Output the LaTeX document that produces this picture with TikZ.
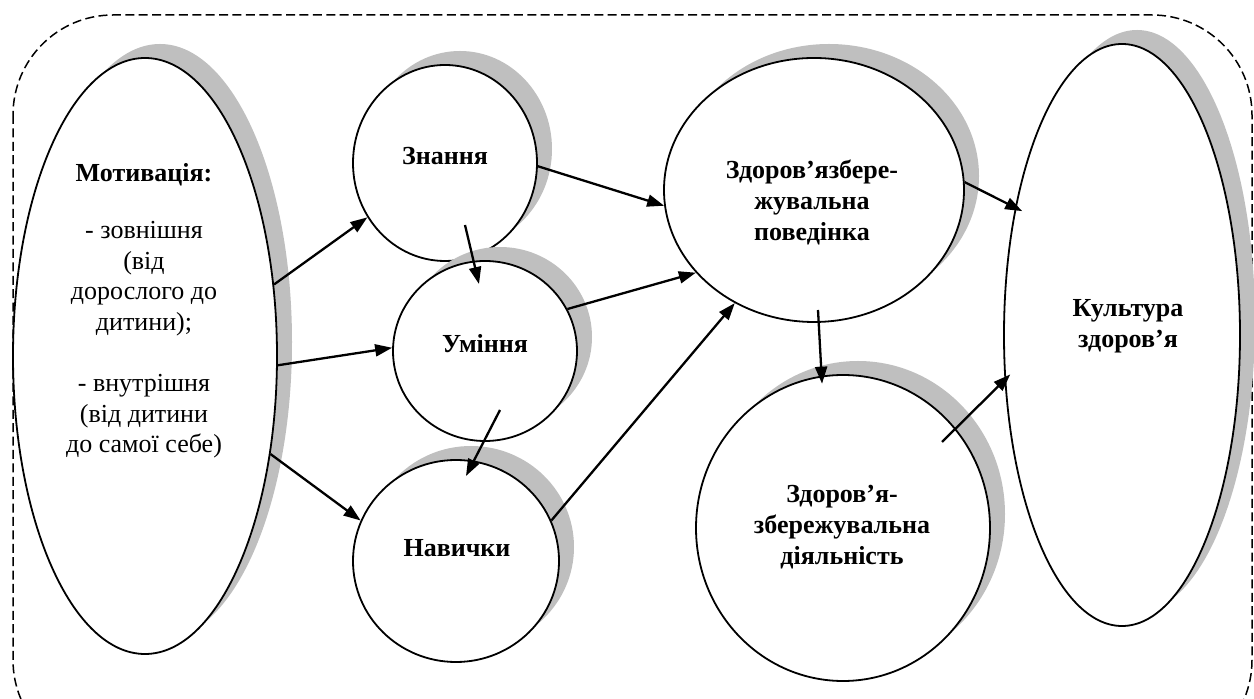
\documentclass[tikz,border=0pt]{standalone}
\usepackage{fontspec}
\setmainfont{Liberation Serif}
\usetikzlibrary{shapes.geometric,arrows.meta,shadows}
\begin{document}
\begin{tikzpicture}[x=0.5pt,y=-0.5pt,
  blob/.style={ellipse, draw=black, line width=0.9pt, fill=white, inner sep=0pt,
     drop shadow={shadow xshift=7.5pt, shadow yshift=7pt, fill=black!25, opacity=1}},
  lbl/.style={font=\fontsize{13pt}{15.3pt}\selectfont, align=center, inner sep=0pt},
  blbl/.style={lbl, font=\fontsize{13pt}{15.5pt}\selectfont\bfseries},
  arr/.style={line width=1.15pt, -{Triangle[length=8.5pt,width=6pt]}},
  frame/.style={draw, line width=0.75pt, dash pattern=on 4.5pt off 2.2pt, rounded corners=50pt}
]
\useasboundingbox (0,0) rectangle (1254,699);
\clip (0,0) rectangle (1254,699);
\draw[frame] (13,15) rectangle (1252,760);

\node[blob, minimum width=132pt, minimum height=298pt] (mot) at (145,356) {};
\node[blob, minimum width=92pt, minimum height=98pt] (zn) at (445,163) {};
\node[blob, minimum width=92pt, minimum height=90pt] (um) at (485,351) {};
\node[blob, minimum width=103pt, minimum height=101pt] (nav) at (456,561) {};
\node[blob, minimum width=150pt, minimum height=132pt] (pov) at (814,190) {};
\node[blob, minimum width=147pt, minimum height=153pt] (dij) at (843,528) {};
\node[blob, minimum width=118pt, minimum height=291pt] (kul) at (1122,335) {};

\node[lbl] (motT) at (144,311) {\textbf{Мотивація:}\\[13pt]- зовнішня\\(від\\дорослого до\\дитини);\\[15.3pt]- внутрішня\\(від дитини\\до самої себе)};
\node[blbl] (znT) at (445,156) {Знання};
\node[blbl] (umT) at (485,344) {Уміння};
\node[blbl] (navT) at (457,548) {Навички};
\node[blbl] (povT) at (812,202) {Здоров’язбере-\\жувальна\\поведінка};
\node[blbl] (dijT) at (842,527) {Здоров’я-\\збережувальна\\діяльність};
\node[blbl] (kulT) at (1128,326) {Культура\\здоров’я};

\coordinate (zu1) at (465,225);
\coordinate (zu2) at (479,284);
\coordinate (un1) at (500,410);
\coordinate (un2) at (466,476);
\coordinate (pd1) at (818,310);
\coordinate (dk1) at (942,442);

\draw[arr] (mot.29) -- (zn.215);
\draw[arr] (mot.-4) -- (um.178);
\draw[arr] (mot.-38) -- (nav.157);
\draw[arr] (zu1) -- (zu2);
\draw[arr] (un1) -- (un2);
\draw[arr] (zn.-2) -- (pov.186);
\draw[arr] (um.27) -- (pov.215);
\draw[arr] (nav.23) -- (pov.235);
\draw[arr, shorten >=-4pt] (pd1) -- (dij.98);
\draw[arr, shorten >=-4pt] (pov.3) -- (kul.130);
\draw[arr, shorten >=-4pt] (dk1) -- (kul.201);
\end{tikzpicture}
\end{document}
